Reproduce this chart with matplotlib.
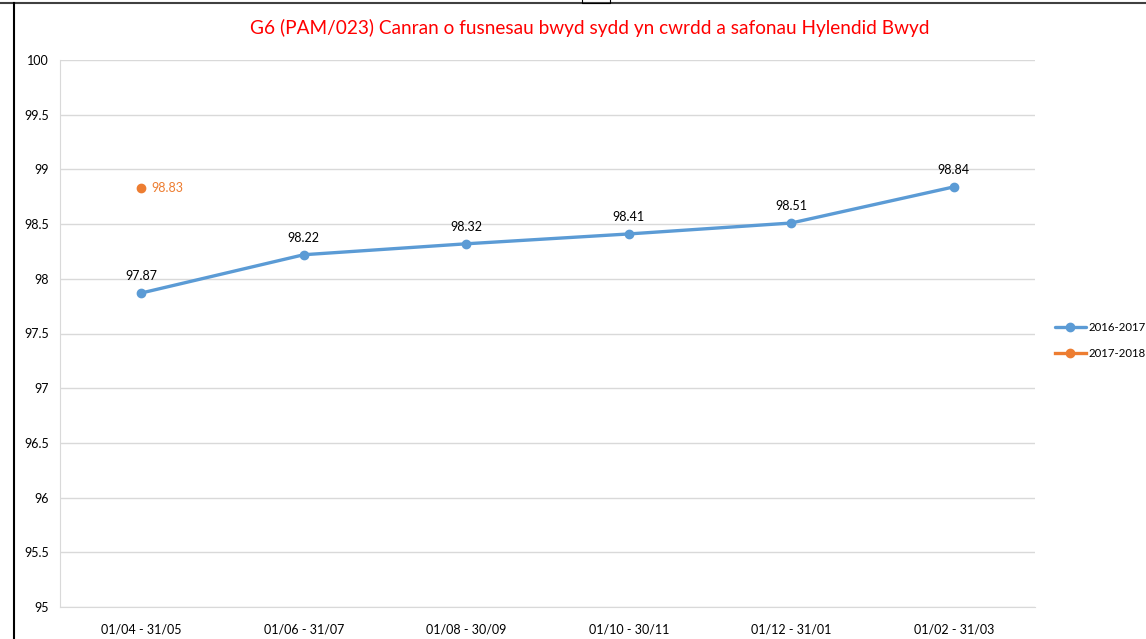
import matplotlib
matplotlib.use('Agg')
import matplotlib.pyplot as plt
from matplotlib.lines import Line2D

# Chart data
periods = ['01/04 - 31/05', '01/06 - 31/07', '01/08 - 30/09', '01/10 - 30/11', '01/12 - 31/01', '01/02 - 31/03']
values_1617 = [97.87, 98.22, 98.32, 98.41, 98.51, 98.84]
values_1718 = [98.83]
series_names = ['2016-2017', '2017-2018']
yticks = [95, 95.5, 96, 96.5, 97, 97.5, 98, 98.5, 99, 99.5, 100]
title = 'G6 (PAM/023) Canran o fusnesau bwyd sydd yn cwrdd a safonau Hylendid Bwyd'

blue = '#5B9BD5'
orange = '#ED7D31'
grid_col = '#D9D9D9'

plt.rcParams['font.family'] = ['Lato', 'DejaVu Sans']

W, H = 1146, 639
fig = plt.figure(figsize=(W / 100, H / 100), dpi=100, facecolor='w')
ax = fig.add_axes([60 / W, 1 - 607 / H, 975 / W, 547 / H])

x1 = list(range(len(values_1617)))
x2 = list(range(len(values_1718)))
ax.plot(x1, values_1617, color=blue, lw=2.4, marker='o', ms=6, label=series_names[0],
        solid_capstyle='round', zorder=3)
ax.plot(x2, values_1718, color=orange, lw=2.4, marker='o', ms=6, label=series_names[1],
        zorder=3)

for x, v in zip(x1, values_1617):
    ax.annotate('%.2f' % v, (x, v), xytext=(0, 8), textcoords='offset points',
                ha='center', va='bottom', fontsize=9, color='#000000')
for x, v in zip(x2, values_1718):
    ax.annotate('%.2f' % v, (x, v), xytext=(7, 0), textcoords='offset points',
                ha='left', va='center', fontsize=9, color=orange)

ax.set_xlim(-0.5, len(periods) - 0.5)
ax.set_ylim(95, 100)
ax.set_xticks(x1)
ax.set_xticklabels(periods, fontsize=9)
ax.set_yticks(yticks)
ax.set_yticklabels(['%g' % t for t in yticks], fontsize=9)
ax.tick_params(length=0, pad=8)
ax.tick_params(axis='x', pad=12)
ax.yaxis.grid(True, color=grid_col, lw=1)
ax.set_axisbelow(True)
for s in ['top', 'right']:
    ax.spines[s].set_visible(False)
ax.spines['left'].set_color(grid_col)
ax.spines['bottom'].set_color(grid_col)

fig.text(590 / W, 1 - 28 / H, title, color='#FF0000', fontsize=13.7, ha='center', va='center')

leg = fig.legend(loc='upper left', bbox_to_anchor=(1055 / W, 1 - 322 / H), frameon=False,
                 fontsize=8.2, handlelength=2.7, handletextpad=0.25, labelspacing=1.3,
                 borderaxespad=0, borderpad=0)

# window frame lines
fig.add_artist(Line2D([0, 1], [1 - 2.5 / H, 1 - 2.5 / H], color='#404040', lw=1.5))
fig.add_artist(Line2D([13.5 / W, 13.5 / W], [0, 1 - 2.5 / H], color='#000000', lw=1.5))
fig.add_artist(Line2D([582 / W, 582 / W, 610 / W, 610 / W], [1, 1 - 3 / H, 1 - 3 / H, 1],
                      color='#000000', lw=0.8))

fig.savefig('out.png', dpi=100, facecolor='w')
